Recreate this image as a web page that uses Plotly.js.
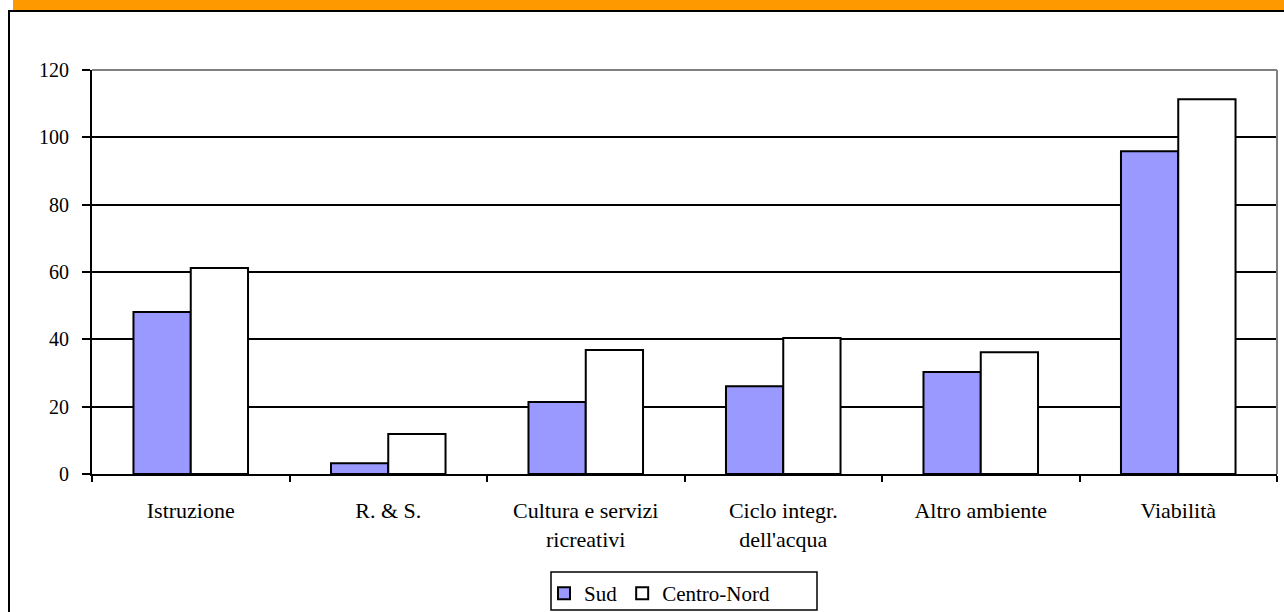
<!DOCTYPE html>
<html><head><meta charset="utf-8">
<script src="https://cdn.plot.ly/plotly-3.0.1.min.js"></script>
<style>html,body{margin:0;padding:0;background:#fff;}#chart{width:1284px;height:612px;}</style>
</head><body><div id="chart"></div>
<script>
const categories = ["Istruzione", "R. & S.", "Cultura e servizi<br>ricreativi", "Ciclo integr.<br>dell'acqua", "Altro ambiente", "Viabilità"];
const sud = [48.1, 3.2, 21.4, 26.1, 30.3, 95.9];
const centroNord = [61.2, 11.9, 36.8, 40.4, 36.2, 111.3];

const W = 1284, H = 612, L = 92, R = 7, T = 70, B = 138;
const pw = W - L - R, ph = H - T - B;
const px = x => (x - L) / pw;
const py = y => (H - B - y) / ph;

const traces = [
  {type: 'bar', name: 'Sud', x: categories, y: sud,
   marker: {color: '#9999FF', line: {color: '#000', width: 2}}},
  {type: 'bar', name: 'Centro-Nord', x: categories, y: centroNord,
   marker: {color: '#FFFFFF', line: {color: '#000', width: 2}}}
];

const layout = {
  width: W, height: H,
  margin: {l: L, r: R, t: T, b: B, autoexpand: false},
  paper_bgcolor: '#fff', plot_bgcolor: '#fff',
  font: {family: '"Liberation Serif", "Times New Roman", serif', size: 21, color: '#000'},
  barmode: 'group', bargap: 0.42, bargroupgap: 0,
  showlegend: true,
  legend: {orientation: 'h', x: px(544), xanchor: 'left', y: py(573), yanchor: 'top',
    bgcolor: 'rgba(0,0,0,0)', borderwidth: 0, font: {size: 21}, traceorder: 'normal',
    itemwidth: 30},
  xaxis: {type: 'category', showline: true, linecolor: '#000', linewidth: 2,
    ticks: 'outside', ticklen: 6, tickwidth: 2, tickcolor: '#000', tickson: 'boundaries',
    ticklabelstandoff: 16, tickfont: {size: 22},
    showgrid: false, fixedrange: true, automargin: false},
  yaxis: {range: [0, 120], dtick: 20, showline: true, linecolor: '#000', linewidth: 2,
    ticks: 'outside', ticklen: 8, tickwidth: 2, tickcolor: '#000', ticklabelstandoff: 9,
    tickfont: {size: 20},
    showgrid: true, gridcolor: '#000', gridwidth: 2, zeroline: false, fixedrange: true, automargin: false},
  shapes: [
    {type: 'rect', xref: 'paper', yref: 'paper', x0: px(13), x1: px(1290), y0: py(0), y1: py(10),
     fillcolor: '#FF9900', line: {width: 0}, layer: 'below'},
    {type: 'rect', xref: 'paper', yref: 'paper', x0: px(9), x1: px(1295), y0: py(11), y1: py(630),
     fillcolor: 'rgba(0,0,0,0)', line: {color: '#000', width: 2}, layer: 'below'},
    {type: 'rect', xref: 'paper', yref: 'paper', x0: px(551), x1: px(817), y0: py(572), y1: py(610),
     fillcolor: 'rgba(0,0,0,0)', line: {color: '#000', width: 1.5}, layer: 'below'},
    {type: 'line', xref: 'paper', yref: 'paper', x0: 0, x1: 1, y0: 1, y1: 1,
     line: {color: '#808080', width: 2}, layer: 'above'},
    {type: 'line', xref: 'paper', yref: 'paper', x0: 1, x1: 1, y0: 0, y1: 1,
     line: {color: '#808080', width: 2}, layer: 'above'}
  ]
};

Plotly.newPlot('chart', traces, layout, {displayModeBar: false, staticPlot: true});
</script></body></html>
